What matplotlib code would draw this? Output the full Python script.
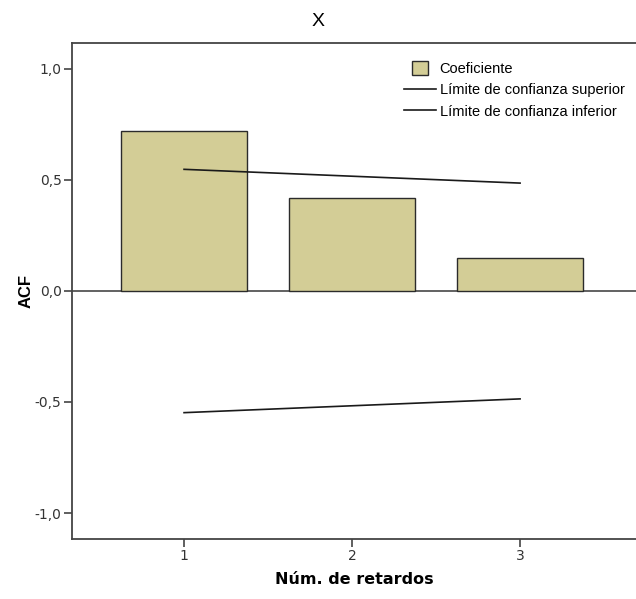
import matplotlib.pyplot as plt
import matplotlib.patches as mpatches
from matplotlib.lines import Line2D
from matplotlib.legend_handler import HandlerPatch

plt.rcParams['font.family'] = ['DejaVu Sans']

# ACF values
lags = [1, 2, 3]
acf = [0.722, 0.419, 0.149]
upper_conf = [0.548, 0.517, 0.486]
lower_conf = [-0.548, -0.517, -0.486]
yticks = [-1.0, -0.5, 0.0, 0.5, 1.0]
ytick_labels = ["-1,0", "-0,5", "0,0", "0,5", "1,0"]

BAR_COLOR = "#d3cd96"
EDGE = "#2b2b2b"


class SmallPatch(HandlerPatch):
    """Legend patch narrower than the line handles (SPSS style)."""
    def create_artists(self, legend, orig_handle, xdescent, ydescent,
                       width, height, fontsize, trans):
        w = width * 0.5
        h = height * 1.3
        p = mpatches.Rectangle((-xdescent + (width - w) / 2, -ydescent - (h - height) / 2),
                               w, h, facecolor=BAR_COLOR, edgecolor=EDGE,
                               linewidth=1.0, transform=trans)
        return [p]


fig = plt.figure(figsize=(6.36, 5.99), dpi=100)
ax = fig.add_axes([0.1132, 0.1002, 0.8868, 0.828])

ax.bar(lags, acf, width=0.75, color=BAR_COLOR, edgecolor=EDGE, linewidth=1.0, zorder=2)
ax.plot(lags, upper_conf, color="#1a1a1a", linewidth=1.2, zorder=3)
ax.plot(lags, lower_conf, color="#1a1a1a", linewidth=1.2, zorder=3)
ax.axhline(0, color="#555555", linewidth=1.3, zorder=1)

ax.set_xlim(0.333, 3.69)
ax.set_ylim(-1.117, 1.117)
ax.set_xticks(lags)
ax.set_xticklabels([str(l) for l in lags])
ax.set_yticks(yticks)
ax.set_yticklabels(ytick_labels)
ax.tick_params(direction='out', length=6, width=1.2, colors="#444444",
               labelcolor="#333333", labelsize=10, pad=1.5)
for s in ['left', 'bottom', 'top']:
    ax.spines[s].set_color("#444444")
    ax.spines[s].set_linewidth(1.3)
ax.spines['right'].set_visible(False)

fig.suptitle("X", x=0.5, y=1 - 22 / 599, va='center', fontsize=14,
             family='Liberation Sans')
ax.set_xlabel("Núm. de retardos", fontsize=11.5, fontweight='bold', labelpad=6)
ax.set_ylabel("ACF", fontsize=12, fontweight='bold', labelpad=1,
              family='Liberation Sans')

handles = [mpatches.Patch(facecolor=BAR_COLOR, edgecolor=EDGE),
           Line2D([0], [0], color="#1a1a1a", linewidth=1.2),
           Line2D([0], [0], color="#1a1a1a", linewidth=1.2)]
labels = ["Coeficiente", "Límite de confianza superior", "Límite de confianza inferior"]
ax.legend(handles, labels, loc='upper left', bbox_to_anchor=(404 / 636, 1 - 62 / 599),
          bbox_transform=fig.transFigure, frameon=False,
          prop={'family': 'Liberation Sans', 'size': 10.5},
          handlelength=2.2, handletextpad=0.25, labelspacing=0.5,
          borderpad=0, borderaxespad=0,
          handler_map={mpatches.Patch: SmallPatch()})

fig.savefig("out.png", dpi=100)
